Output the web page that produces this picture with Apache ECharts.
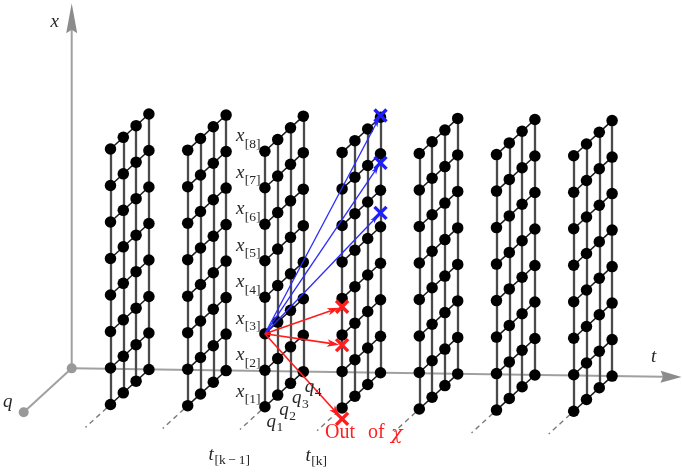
<!DOCTYPE html>
<html><head><meta charset="utf-8">
<script src="https://cdn.jsdelivr.net/npm/echarts@6/dist/echarts.min.js"></script>
<style>html,body{margin:0;padding:0;background:#fff}#c{width:682px;height:475px}</style>
</head><body><div id="c"></div>
<script>
// ---------------- data ----------------
const slices = [1, 2, 3, 4, 5, 6, 7];            // time slices
const qLevels = [1, 2, 3, 4];                      // q grid
const xLevels = [1, 2, 3, 4, 5, 6, 7, 8];          // x grid
const xLabelSubs = ['[1]', '[2]', '[3]', '[4]', '[5]', '[6]', '[7]', '[8]'];
const qLabelSubs = ['1', '2', '3', '4'];
const tLabelSlices = [3, 4];
const tLabelSubs = ['[k\u2009\u2212\u20091]', '[k]'];
const labelSlice = 3;
const sourceState = [3, 1, 3];                     // [slice, q, x] at t[k-1]
const targetSlice = 4;
const blueTargetQ = 4;
const blueTargetX = [8.05, 6.75, 5.38];
const redTargetQ = 1;
const redTargetX = [3.77, 2.72, 0.70];
const outText = ['Out', 'of', '\u03c7'];
const axisEnd = { t: 7.9, x: 11.0, q: 0.25 };      // axis extents in grid units
const dashRange = [0.7, -0.95];                    // q-range of dashed guides

// ---------------- projection (layout) ----------------
const ORIGIN = [20.5, 451.65], TV = [77.2, 1.107], QV = [12.8, -11.7], XV = [0, -36.5];
function P(t, q, x) {
  return [ORIGIN[0] + t * TV[0] + q * QV[0] + x * XV[0],
          ORIGIN[1] + t * TV[1] + q * QV[1] + x * XV[1]];
}
const axisOrigin = [0, 4, 1];

const MF = '"Liberation Serif","DejaVu Serif",serif';
const mctx = document.createElement('canvas').getContext('2d');
function tw(text, font) { mctx.font = font; return mctx.measureText(text).width; }

// ---------------- build marks ----------------
const verticals = [], diagonals = [], dots = [], dashes = [];
slices.forEach(s => {
  qLevels.forEach(q => verticals.push({ coords: [P(s, q, xLevels[0]), P(s, q, xLevels[xLevels.length - 1])] }));
  xLevels.forEach(x => diagonals.push({ coords: [P(s, qLevels[0], x), P(s, qLevels[qLevels.length - 1], x)] }));
  qLevels.forEach(q => xLevels.forEach(x => dots.push(P(s, q, x))));
  dashes.push({ coords: [P(s, dashRange[0], 1), P(s, dashRange[1], 1)] });
});
const src = P(sourceState[0], sourceState[1], sourceState[2]);
const blueEnds = blueTargetX.map(x => P(targetSlice, blueTargetQ, x));
const redEnds = redTargetX.map(x => P(targetSlice, redTargetQ, x));
const blueArrows = blueEnds.map(e => [src[0], src[1], e[0], e[1]]);
const redArrows = redEnds.map(e => [src[0], src[1], e[0], e[1]]);

const O = P(...axisOrigin);
const xTop = P(axisOrigin[0], axisOrigin[1], axisEnd.x);
const tEnd = P(axisEnd.t, axisOrigin[1], axisOrigin[2]);
const qEnd = P(axisOrigin[0], axisEnd.q, axisOrigin[2]);

// labels
const labelDefs = [];
xLevels.forEach((x, i) => labelDefs.push({ pos: P(labelSlice, 1, x), kind: 'xlab', sub: xLabelSubs[i] }));
qLevels.forEach((q, i) => labelDefs.push({ pos: P(labelSlice, q, 1), kind: 'qlab', sub: qLabelSubs[i] }));
tLabelSlices.forEach((s, i) => labelDefs.push({ pos: P(s, 1, 1), kind: 'tlab', sub: tLabelSubs[i] }));
labelDefs.push({ pos: redEnds[redEnds.length - 1], kind: 'out' });
labelDefs.push({ pos: xTop, kind: 'axis', text: 'x', dx: -17, dy: 19 });
labelDefs.push({ pos: tEnd, kind: 'axis', text: 't', dx: -28, dy: -20 });
labelDefs.push({ pos: qEnd, kind: 'axis', text: 'q', dx: -16, dy: -10 });

// ---------------- renderers ----------------
function arrowRenderer(o) {
  return function (params, api) {
    const a = api.coord([api.value(0), api.value(1)]);
    const b = api.coord([api.value(2), api.value(3)]);
    const dx = b[0] - a[0], dy = b[1] - a[1], L = Math.hypot(dx, dy);
    const ux = dx / L, uy = dy / L, nx = -uy, ny = ux;
    const tip = [b[0] - ux * o.gap, b[1] - uy * o.gap];
    const base = [tip[0] - ux * o.len, tip[1] - uy * o.len];
    const notch = [tip[0] - ux * o.len * (1 - o.notch), tip[1] - uy * o.len * (1 - o.notch)];
    const hw = o.width / 2;
    return { type: 'group', children: [
      { type: 'line', shape: { x1: a[0], y1: a[1], x2: notch[0], y2: notch[1] },
        style: { stroke: o.color, lineWidth: o.lineWidth } },
      { type: 'polygon', shape: { points: [tip, [base[0] + nx * hw, base[1] + ny * hw], notch, [base[0] - nx * hw, base[1] - ny * hw]] },
        style: { fill: o.headColor || o.color } }
    ] };
  };
}
function crossRenderer(color) {
  return function (params, api) {
    const p = api.coord([api.value(0), api.value(1)]);
    const h = 6;
    return { type: 'group', children: [
      { type: 'line', shape: { x1: p[0] - h, y1: p[1] - h, x2: p[0] + h, y2: p[1] + h }, style: { stroke: color, lineWidth: 3.4 } },
      { type: 'line', shape: { x1: p[0] - h, y1: p[1] + h, x2: p[0] + h, y2: p[1] - h }, style: { stroke: color, lineWidth: 3.4 } }
    ] };
  };
}
const TXT = '#262626';
function txt(x, y, text, font, fill, align) {
  return { type: 'text', style: { x: x, y: y, text: text, font: font, fill: fill || TXT, align: align || 'left', verticalAlign: 'middle' } };
}
function labelRenderer(params, api) {
  const d = labelDefs[params.dataIndex];
  const p = api.coord(d.pos);
  const mainF = 'italic 19px ' + MF, subF = '13.5px ' + MF;
  if (d.kind === 'xlab') {
    const x0 = p[0] - 29, w = tw('x', mainF);
    return { type: 'group', children: [txt(x0, p[1] - 15, 'x', mainF), txt(x0 + w + 0.5, p[1] - 7, d.sub, subF)] };
  }
  if (d.kind === 'qlab') {
    const x0 = p[0] + 1.5, w = tw('q', mainF);
    return { type: 'group', children: [txt(x0, p[1] + 15, 'q', mainF), txt(x0 + w + 0.5, p[1] + 21, d.sub, subF)] };
  }
  if (d.kind === 'tlab') {
    const right = p[0] - 15, ws = tw(d.sub, subF), w = tw('t', mainF);
    return { type: 'group', children: [txt(right - ws - w - 0.5, p[1] + 48, 't', mainF), txt(right - ws, p[1] + 54, d.sub, subF)] };
  }
  if (d.kind === 'out') {
    const f = '20px ' + MF, red = '#ff2020';
    return { type: 'group', children: [
      txt(p[0] - 17, p[1] + 14, outText[0], f, red),
      txt(p[0] + 26, p[1] + 14, outText[1], f, red),
      txt(p[0] + 49, p[1] + 15, outText[2], 'italic 19px "DejaVu Serif",serif', red)
    ] };
  }
  return txt(p[0] + d.dx, p[1] + d.dy, d.text, mainF, TXT, 'center');
}

// ---------------- chart ----------------
const chart = echarts.init(document.getElementById('c'), null, { renderer: 'canvas' });
const AX = '#a0a0a0';
chart.setOption({
  animation: false,
  backgroundColor: '#fff',
  grid: { left: 0, right: 0, top: 0, bottom: 0 },
  xAxis: { type: 'value', min: 0, max: 682, show: false },
  yAxis: { type: 'value', min: 0, max: 475, inverse: true, show: false },
  series: [
    { type: 'custom', z: 1, clip: false, silent: true, data: [[O[0], O[1], xTop[0], xTop[1]]],
      renderItem: arrowRenderer({ color: AX, headColor: '#8c8c8c', lineWidth: 2, len: 30, width: 11, notch: 0.12, gap: 0 }) },
    { type: 'custom', z: 1, clip: false, silent: true, data: [[O[0], O[1], tEnd[0], tEnd[1]]],
      renderItem: arrowRenderer({ color: AX, headColor: '#8c8c8c', lineWidth: 2, len: 21, width: 12, notch: 0.12, gap: 0 }) },
    { type: 'lines', coordinateSystem: 'cartesian2d', z: 1, silent: true,
      lineStyle: { color: AX, width: 2, opacity: 1 }, data: [{ coords: [O, qEnd] }] },
    { type: 'scatter', z: 1, silent: true, symbolSize: 10, itemStyle: { color: '#999', opacity: 1 }, data: [O, qEnd] },
    { type: 'lines', coordinateSystem: 'cartesian2d', z: 2, silent: true,
      lineStyle: { color: '#7a7a7a', width: 1.4, type: [5, 4], opacity: 1 }, data: dashes },
    { type: 'lines', coordinateSystem: 'cartesian2d', z: 3, silent: true,
      lineStyle: { color: '#4a4a4a', width: 2.3, opacity: 1 }, data: verticals },
    { type: 'lines', coordinateSystem: 'cartesian2d', z: 3, silent: true,
      lineStyle: { color: '#1a1a1a', width: 1.5, opacity: 1 }, data: diagonals },
    { type: 'scatter', z: 4, silent: true, symbolSize: 11.5, itemStyle: { color: '#000', opacity: 1 }, data: dots },
    { type: 'custom', z: 5, clip: false, silent: true, data: blueArrows,
      renderItem: arrowRenderer({ color: '#2a2aff', lineWidth: 1.3, len: 9, width: 5.5, notch: 0.25, gap: 3 }) },
    { type: 'custom', z: 5, clip: false, silent: true, data: redArrows,
      renderItem: arrowRenderer({ color: '#ff1c1c', lineWidth: 1.6, len: 12, width: 7.5, notch: 0.25, gap: 3 }) },
    { type: 'custom', z: 6, clip: false, silent: true, data: blueEnds, renderItem: crossRenderer('#1e1eff') },
    { type: 'custom', z: 6, clip: false, silent: true, data: redEnds, renderItem: crossRenderer('#ff1c1c') },
    { type: 'custom', z: 7, clip: false, silent: true, data: labelDefs.map(d => d.pos), renderItem: labelRenderer }
  ]
});
</script>
</body></html>
